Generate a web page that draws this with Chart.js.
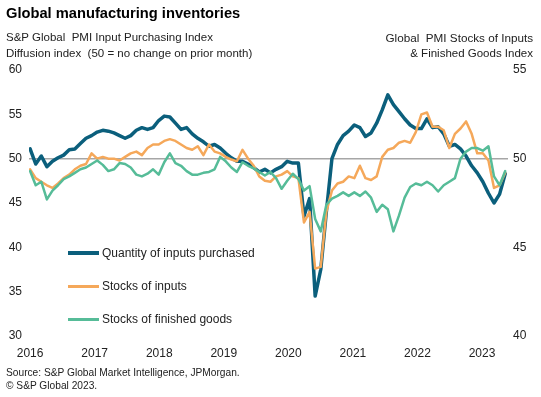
<!DOCTYPE html>
<html>
<head>
<meta charset="utf-8">
<script src="https://cdn.jsdelivr.net/npm/chart.js@4.4.1/dist/chart.umd.min.js"></script>
<style>
  body { margin: 0; background: #fff; }
  #wrap { position: relative; width: 541px; height: 397px; overflow: hidden;
          font-family: Arial, "Liberation Sans", sans-serif; color: #222; }
  #c { position: absolute; left: 0; top: 0; }
  .txt { position: absolute; white-space: pre; line-height: 1; }
  .legend-row { position: absolute; left: 68px; display: flex; align-items: center; font-size: 12px; }
  .legend-row span.ln { display: inline-block; width: 31px; margin-right: 3px; }
</style>
</head>
<body>
<div id="wrap">
  <canvas id="c" width="541" height="397"></canvas>
  <div class="txt" style="left:6px;top:6px;font-size:14.7px;font-weight:bold;color:#000">Global manufacturing inventories</div>
  <div class="txt" style="left:6px;top:32px;font-size:11.5px">S&amp;P Global  PMI Input Purchasing Index</div>
  <div class="txt" style="left:6px;top:48px;font-size:11.5px">Diffusion index  (50 = no change on prior month)</div>
  <div class="txt" style="right:8px;top:32px;font-size:11.7px;text-align:right">Global  PMI Stocks of Inputs</div>
  <div class="txt" style="right:8px;top:48px;font-size:11.5px;text-align:right">&amp; Finished Goods Index</div>
  <div class="txt" style="left:6px;top:368px;font-size:10.2px">Source: S&amp;P Global Market Intelligence, JPMorgan.</div>
  <div class="txt" style="left:6px;top:381px;font-size:10.2px">© S&amp;P Global 2023.</div>
  <div id="legend"></div>
</div>
<script>
// year tick labels (Jan 2016 .. Feb 2023, monthly data)
const years = ['2016', '2017', '2018', '2019', '2020', '2021', '2022', '2023'];

const seriesNames = ['Quantity of inputs purchased', 'Stocks of inputs', 'Stocks of finished goods'];

// left axis: Global PMI quantity of purchases
const purchases = [
  51.1, 49.4, 50.3, 49.1, 49.7, 50.1, 50.4, 51.0, 51.1, 51.7, 52.3, 52.6,
  53.0, 53.2, 53.1, 52.9, 52.6, 52.3, 52.6, 53.2, 53.5, 53.3, 53.5, 54.3,
  54.8, 54.7, 54.0, 53.3, 53.5, 52.8, 52.3, 51.9, 51.4, 51.6, 51.2, 50.6,
  50.1, 49.7, 49.7, 49.4, 49.0, 48.5, 48.8, 48.4, 48.8, 49.1, 49.7, 49.5,
  49.5, 43.5, 45.5, 34.5, 37.5, 44.0, 50.0, 51.6, 52.6, 53.1, 53.8, 53.5,
  52.5, 52.9, 54.0, 55.5, 57.2, 56.1, 55.3, 54.5, 53.8, 53.4, 53.4, 54.5,
  53.5, 53.6, 52.8, 51.4, 51.6, 51.1, 50.3, 49.2, 48.4, 47.4, 46.1, 45.0,
  46.0, 48.3
];

// right axis: stocks of inputs
const stocksInputs = [
  49.4, 48.9, 48.7, 48.5, 48.35, 48.6, 48.9, 49.1, 49.4, 49.6, 49.7, 50.3,
  50.0, 50.1, 50.0, 50.0, 49.9, 50.1, 50.3, 50.4, 50.2, 50.6, 50.8, 50.8,
  51.0, 51.1, 51.0, 50.8, 50.6, 50.5, 50.7, 50.2, 50.8, 50.4, 50.3, 50.1,
  49.95, 49.85, 50.5, 50.0, 49.6, 49.0, 48.75, 48.7, 49.0, 49.1, 49.3, 49.0,
  48.9, 46.4, 47.0, 43.8, 43.9, 47.0, 48.2, 48.6, 48.7, 49.0, 48.9, 49.6,
  48.9, 48.8, 49.0, 50.1, 50.5, 50.6, 50.9, 51.0, 50.9, 51.5, 52.5, 52.6,
  51.8, 51.8, 51.6, 50.6, 51.4, 51.7, 52.1, 51.4, 50.3, 50.3, 49.9, 48.35,
  48.5, 49.2
];

// right axis: stocks of finished goods
const stocksFinished = [
  49.3, 48.5, 48.7, 47.7, 48.2, 48.5, 48.85, 49.0, 49.2, 49.4, 49.5, 49.7,
  49.9, 49.65, 49.3, 49.4, 49.75, 49.7, 49.5, 49.1, 49.0, 49.15, 49.4, 49.1,
  49.8, 50.3, 49.75, 49.6, 49.3, 49.1, 49.1, 49.2, 49.25, 49.4, 50.1, 49.85,
  49.5, 49.25, 49.8, 49.6, 49.45, 49.25, 49.05, 49.25, 48.9, 48.3, 48.75, 49.15,
  48.85, 48.2, 48.45, 46.6, 45.9, 47.4, 47.75, 47.9, 48.1, 47.9, 48.1, 47.9,
  48.15, 47.8, 47.0, 47.4, 47.15, 45.9, 46.8, 47.8, 48.4, 48.6, 48.5, 48.7,
  48.5, 48.15, 48.5, 48.7, 48.9, 50.0, 50.4, 50.6, 50.6, 50.45, 50.7, 49.0,
  48.5, 49.3
];

const colors = ['#0b5f7c', '#f5a85a', '#56bc98'];
const widths = [3.5, 2.5, 2.5];

const toXY = arr => arr.map((v, i) => ({ x: i, y: v }));
const YEAR_STEP = 11.55; // spacing of year labels in months (as drawn on the source)

// legend inside plot
const legend = document.getElementById('legend');
seriesNames.forEach((name, i) => {
  const row = document.createElement('div');
  row.className = 'legend-row';
  row.style.top = (246 + i * 33) + 'px';
  row.innerHTML = '<span class="ln" style="height:' + (i === 0 ? 4 : 3) + 'px;background:' + colors[i] + '"></span>' + name;
  legend.appendChild(row);
});

Chart.defaults.font.family = 'Arial, "Liberation Sans", sans-serif';
Chart.defaults.font.size = 12;
Chart.defaults.color = '#222';

new Chart(document.getElementById('c'), {
  type: 'line',
  data: {
    datasets: [
      { label: seriesNames[0], data: toXY(purchases), yAxisID: 'y', borderColor: colors[0], borderWidth: widths[0], order: 3 },
      { label: seriesNames[1], data: toXY(stocksInputs), yAxisID: 'y2', borderColor: colors[1], borderWidth: widths[1], order: 2 },
      { label: seriesNames[2], data: toXY(stocksFinished), yAxisID: 'y2', borderColor: colors[2], borderWidth: widths[2], order: 1 }
    ]
  },
  options: {
    responsive: false,
    animation: false,
    layout: { padding: { top: 70, bottom: 37, left: 0, right: 0 } },
    elements: {
      point: { radius: 0 },
      line: { tension: 0, borderJoinStyle: 'round', borderCapStyle: 'round' }
    },
    plugins: { legend: { display: false }, tooltip: { enabled: false } },
    scales: {
      x: {
        type: 'linear',
        min: -0.2,
        max: 85.5,
        grid: { display: false, drawTicks: false },
        border: { display: false },
        afterBuildTicks: s => { s.ticks = years.map((y, i) => ({ value: i * YEAR_STEP })); },
        afterFit: s => { s.height = 24; },
        ticks: {
          padding: 10,
          maxRotation: 0,
          autoSkip: false,
          callback: (v, i) => years[i]
        }
      },
      y: {
        position: 'left',
        min: 30,
        max: 60,
        border: { display: false },
        grid: {
          drawTicks: false,
          lineWidth: 1.5,
          color: c => (c.tick && c.tick.value === 50 ? '#a6a6a6' : 'rgba(0,0,0,0)')
        },
        afterFit: s => { s.width = 29; },
        ticks: { stepSize: 5, padding: 7 }
      },
      y2: {
        position: 'right',
        min: 40,
        max: 55,
        border: { display: false },
        grid: { display: false, drawTicks: false },
        afterFit: s => { s.width = 33; },
        ticks: { stepSize: 5, padding: 5 }
      }
    }
  }
});
</script>
</body>
</html>
